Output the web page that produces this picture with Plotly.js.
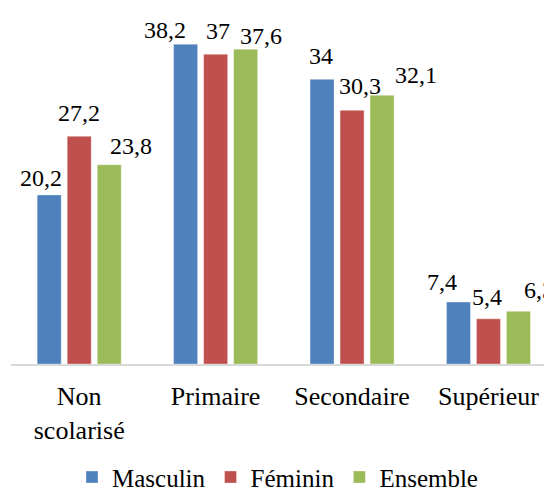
<!DOCTYPE html>
<html>
<head>
<meta charset="utf-8">
<script src="https://cdn.plot.ly/plotly-3.0.1.min.js"></script>
<style>html,body{margin:0;padding:0;background:#fff;}#chart{width:544px;height:490px;}</style>
</head>
<body>
<div id="chart"></div>
<script>
// ---- data ----
const categories = ["Non<br>scolarisé", "Primaire", "Secondaire", "Supérieur"];
const seriesNames = ["Masculin", "Féminin", "Ensemble"];
const masculin = [20.2, 38.2, 34, 7.4];
const feminin  = [27.2, 37, 30.3, 5.4];
const ensemble = [23.8, 37.6, 32.1, 6.3];

// ---- styles / label placement (not data) ----
const colors = ["#4F81BD", "#C0504D", "#9BBB59"];
const barOffsetPx = [-30, 0, 30];
const labelDx = [[-8, -21, -1, -16], [0, 2, 8, -1], [22, 15, 34, 21]];
const labelDy = [[17, 14, 23, 20], [23, 23, 24, 22], [19, 13, 20, 21]];
const FONT = "Liberation Serif, Tinos, DejaVu Serif, serif";

const allSeries = [masculin, feminin, ensemble];
const traces = allSeries.map((vals, i) => ({
  type: "bar",
  name: seriesNames[i],
  x: categories,
  y: vals,
  marker: {color: colors[i], line: {color: "rgba(255,255,255,0.35)", width: 1}},
  hoverinfo: "skip"
}));

const fmt = v => String(v).replace(".", ",");
const annotations = [];
allSeries.forEach((vals, i) => {
  vals.forEach((v, j) => {
    annotations.push({
      x: categories[j], y: v, xref: "x", yref: "y",
      text: fmt(v), showarrow: false,
      xanchor: "center", yanchor: "middle",
      xshift: barOffsetPx[i] + labelDx[i][j],
      yshift: labelDy[i][j],
      font: {family: FONT, size: 24, color: "#000"}
    });
  });
});

const layout = {
  width: 544, height: 490,
  margin: {l: 11, r: 0, t: 4, b: 126},
  paper_bgcolor: "#fff", plot_bgcolor: "#fff",
  barmode: "group",
  bargap: 0.34, bargroupgap: 0.2,
  font: {family: FONT, color: "#000"},
  xaxis: {
    type: "category",
    range: [-0.5, 3.407],
    automargin: false,
    showline: true, linecolor: "#D9D9D9", linewidth: 2,
    ticks: "", showgrid: false, zeroline: false,
    tickfont: {family: FONT, size: 26, color: "#000"},
    ticklabelstandoff: 8
  },
  yaxis: {range: [0, 43], visible: false, showgrid: false, zeroline: false, automargin: false},
  showlegend: true,
  legend: {
    orientation: "h", x: 0.5, xanchor: "center",
    yref: "container", y: 0.026, yanchor: "middle",
    font: {family: FONT, size: 25, color: "#000"},
    itemwidth: 30, traceorder: "normal"
  },
  annotations: annotations
};

Plotly.newPlot("chart", traces, layout, {displayModeBar: false, staticPlot: true});
</script>
</body>
</html>
